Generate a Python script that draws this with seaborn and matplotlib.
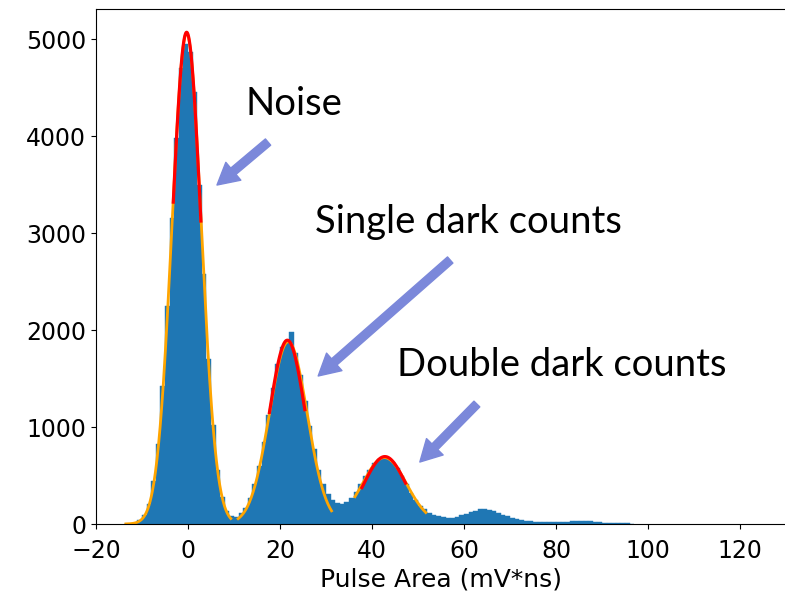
import numpy as np
import pandas as pd
import matplotlib
matplotlib.use('Agg')
import matplotlib.pyplot as plt
import seaborn as sns

# histogram: 1 mV*ns wide bins, left edges from -14
bin_left = np.arange(-14, 97)
counts = [0, 5, 15, 40, 95, 210, 440, 830, 1420, 2250,
          3150, 3980, 4700, 4950, 4870, 4450, 3500, 2580, 1700, 1020,
          560, 280, 130, 80, 75, 110, 170, 270, 410, 600,
          850, 1120, 1400, 1650, 1830, 1900, 1980, 1760, 1540, 1270,
          1010, 770, 560, 410, 310, 250, 220, 210, 230, 270,
          330, 410, 490, 560, 630, 670, 690, 680, 640, 580,
          500, 410, 320, 250, 190, 150, 110, 90, 80, 70,
          60, 65, 75, 90, 105, 120, 135, 150, 155, 145,
          135, 115, 95, 80, 65, 50, 40, 35, 30, 25,
          25, 20, 20, 25, 20, 20, 25, 30, 30, 35,
          30, 30, 25, 20, 15, 15, 12, 10, 8, 8,
          0]

# gaussian fits: (amplitude, mean, sigma, x from, x to)
fit_orange = [(5060, -0.3, 3.2, -13.5, 9.3),
              (1880, 21.8, 4.1, 10.9, 31.2),
              (685, 42.7, 4.8, 36.3, 51.7)]
fit_red = [(5070, -0.3, 3.15, -3.2, 2.8),
           (1895, 21.6, 3.9, 17.7, 25.4),
           (695, 42.8, 4.5, 37.8, 47.3)]

labels = ['Noise', 'Single dark counts', 'Double dark counts']
label_pos = [(12.6, 4216), (27.6, 3000), (45.4, 1526)]
arrow_tail = [(17.4, 3938), (57.0, 2722), (62.8, 1237)]
arrow_tip = [(6.3, 3495), (28.3, 1526), (50.4, 639)]

df = pd.DataFrame({'center': bin_left + 0.5, 'count': counts})
edges = list(bin_left) + [bin_left[-1] + 1]

fig = plt.figure(figsize=(7.85, 5.99), dpi=100)
ax = fig.add_axes([96 / 785, 75 / 599, 690 / 785, 515 / 599])

sns.histplot(data=df, x='center', weights='count', bins=edges, color='#1f77b4',
             alpha=1, edgecolor='#1f77b4', linewidth=0.3, ax=ax)


def gauss(x, a, m, s):
    return a * np.exp(-(x - m) ** 2 / (2 * s ** 2))


for a, m, s, x0, x1 in fit_orange:
    xs = np.linspace(x0, x1, 200)
    ax.plot(xs, gauss(xs, a, m, s), color='orange', lw=2)
for a, m, s, x0, x1 in fit_red:
    xs = np.linspace(x0, x1, 100)
    ax.plot(xs, gauss(xs, a, m, s), color='red', lw=2.3)

for txt, (tx, ty) in zip(labels, label_pos):
    ax.text(tx, ty, txt, fontsize=27.5, family=['Lato', 'DejaVu Sans'],
            ha='left', va='baseline')

for tail, tip in zip(arrow_tail, arrow_tip):
    ax.annotate('', xy=tip, xytext=tail,
                arrowprops=dict(arrowstyle='simple,head_length=1.1,head_width=1.2,tail_width=0.42',
                                color='#7b88da', mutation_scale=14,
                                shrinkA=0, shrinkB=0))

ax.set_xlim(-20, 130)
ax.set_ylim(0, 5310)
ax.set_xticks(range(-20, 140, 20))
ax.set_yticks(range(0, 6000, 1000))
ax.tick_params(labelsize=17)
ax.tick_params(axis='x', pad=7.5)
ax.set_ylabel('')
ax.set_xlabel('Pulse Area (mV*ns)', fontsize=18, labelpad=3)

fig.savefig('out.png', dpi=100)
